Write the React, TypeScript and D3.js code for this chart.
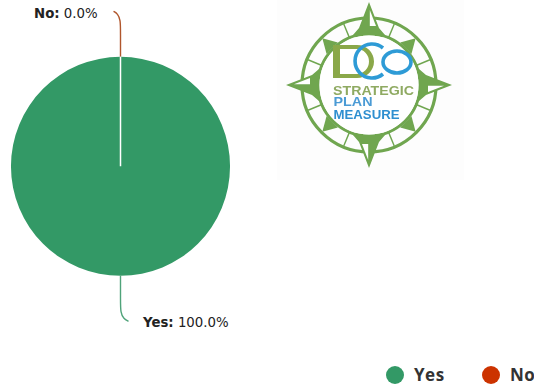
import React from "react";
import * as d3 from "d3";

const categories = ["Yes", "No"];
const shares = [100.0, 0.0];
const colours = ["#339966", "#CC3300"];
const leaderColours = ["#4FA37A", "#B0562C"];
const logoLines = [
  { text: "STRATEGIC", colour: "#8FAA62", size: 12.4, y: 9.5, x: -36, width: 81 },
  { text: "PLAN", colour: "#4B9BD5", size: 12.4, y: 21, x: -35.5, width: 39 },
  { text: "MEASURE", colour: "#2F8FD0", size: 12.2, y: 33.5, x: -35.5, width: 66 },
];

const WIDTH = 534;
const HEIGHT = 390;
const CX = 120.5;
const CY = 166.3;
const RADIUS = 109.5;
const LABEL_FONT = "'DejaVu Sans', sans-serif";
const LEGEND_FONT = "'Open Sans', sans-serif";

const pieLayout = d3.pie<number>().sort(null).value((d) => d);
const slices = pieLayout(shares);
const arcShape = d3.arc<d3.PieArcDatum<number>>().innerRadius(0).outerRadius(RADIUS);

// Leader line leaving the rim of a slice, bending sideways near its label.
function leader(direction: number, bend: number): string {
  const r = RADIUS;
  const pts: [number, number][] = [
    [0, direction * r],
    [0, direction * (r + 24)],
    [0, direction * (r + 37)],
    [bend * 0.4, direction * (r + 43)],
    [bend, direction * (r + 45.5)],
  ];
  return d3.line().curve(d3.curveBasis)(pts) ?? "";
}

function Compass() {
  const green = "#6FA650";
  const cardinals = [0, 90, 180, 270];
  const diagonals = [45, 135, 225, 315];
  const spokes = d3.range(22.5, 360, 45);
  return (
    <g transform="translate(369 85)">
      <rect x={-92} y={-85} width={187} height={180} fill="#FDFDFD" />
      <g filter="url(#soft)">
        <circle r={67} fill="none" stroke={green} strokeWidth={3.2} />
        <circle r={51} fill="none" stroke={green} strokeWidth={3} />
        {spokes.map((a) => (
          <rect key={a} x={-0.7} y={-66} width={1.4} height={15} fill={green} transform={`rotate(${a})`} />
        ))}
        {diagonals.map((a) => (
          <path key={a} d="M-8,-52 L0,-66 L8,-52 Z" fill={green} transform={`rotate(${a})`} />
        ))}
        {cardinals.map((a) => (
          <g key={a} transform={`rotate(${a})`}>
            <path d="M0,-83 L-10,-57 L-16,-50 L16,-50 L10,-57 Z" fill={green} />
            <path d="M0.8,-75 L0.8,-59 L7,-59 Z" fill="#FFFFFF" />
          </g>
        ))}
        <circle r={49.5} fill="#FFFFFF" />
        <path
          d="M-36,-40 L-12,-40 A 17,16.5 0 0 1 -12,-7 L-36,-7 Z M-29,-36 L-29,-11 L-12,-11 A 12,12.5 0 0 0 -12,-36 Z"
          fill="#8AA848"
          fillRule="evenodd"
        />
        <path d="M14,-37 A 17,17 0 1 0 14,-11" fill="none" stroke="#2E9BD6" strokeWidth={3.6} />
        <ellipse cx={28} cy={-23} rx={14} ry={11} fill="none" stroke="#2E9BD6" strokeWidth={3.6} />
        {logoLines.map((l) => (
          <text
            key={l.text}
            x={l.x}
            y={l.y}
            fontFamily="'Liberation Sans', sans-serif"
            fontWeight={700}
            fontSize={l.size}
            fill={l.colour}
            textLength={l.width}
            lengthAdjust="spacingAndGlyphs"
          >
            {l.text}
          </text>
        ))}
      </g>
    </g>
  );
}

export default function App() {
  const labels = [
    { x: 143, y: 327, bend: 8, dir: 1 },
    { x: 34, y: 18, bend: -7, dir: -1 },
  ];
  return (
    <svg width={WIDTH} height={HEIGHT} style={{ position: "absolute", left: 0, top: 0, background: "#fff" }}>
      <defs>
        <filter id="soft" x="-5%" y="-5%" width="110%" height="110%">
          <feGaussianBlur stdDeviation={0.5} />
        </filter>
      </defs>
      <Compass />
      <g transform={`translate(${CX} ${CY})`}>
        {slices.map((s, i) => (
          <path
            key={categories[i]}
            d={leader(labels[i].dir, labels[i].bend)}
            fill="none"
            stroke={leaderColours[i]}
            strokeWidth={1.4}
          />
        ))}
        {slices.map((s, i) => (
          <path key={categories[i]} d={arcShape(s) ?? ""} fill={colours[0]} stroke={i === 1 ? "#fff" : "none"} strokeWidth={1.5} />
        ))}
      </g>
      {slices.map((s, i) => (
        <text key={categories[i]} x={labels[i].x} y={labels[i].y} fontFamily={LABEL_FONT} fontSize={13.3} fill="#222">
          <tspan fontWeight={700}>{categories[i]}:</tspan> {d3.format(".1f")(shares[i])}%
        </text>
      ))}
      {categories.map((c, i) => {
        const x = [395, 491][i];
        return (
          <g key={c}>
            <circle cx={x} cy={375} r={9} fill={colours[i]} />
            <text x={x + 19} y={381} fontFamily={LEGEND_FONT} fontWeight={700} fontSize={17} letterSpacing={0.5} fill="#333">
              {c}
            </text>
          </g>
        );
      })}
    </svg>
  );
}
